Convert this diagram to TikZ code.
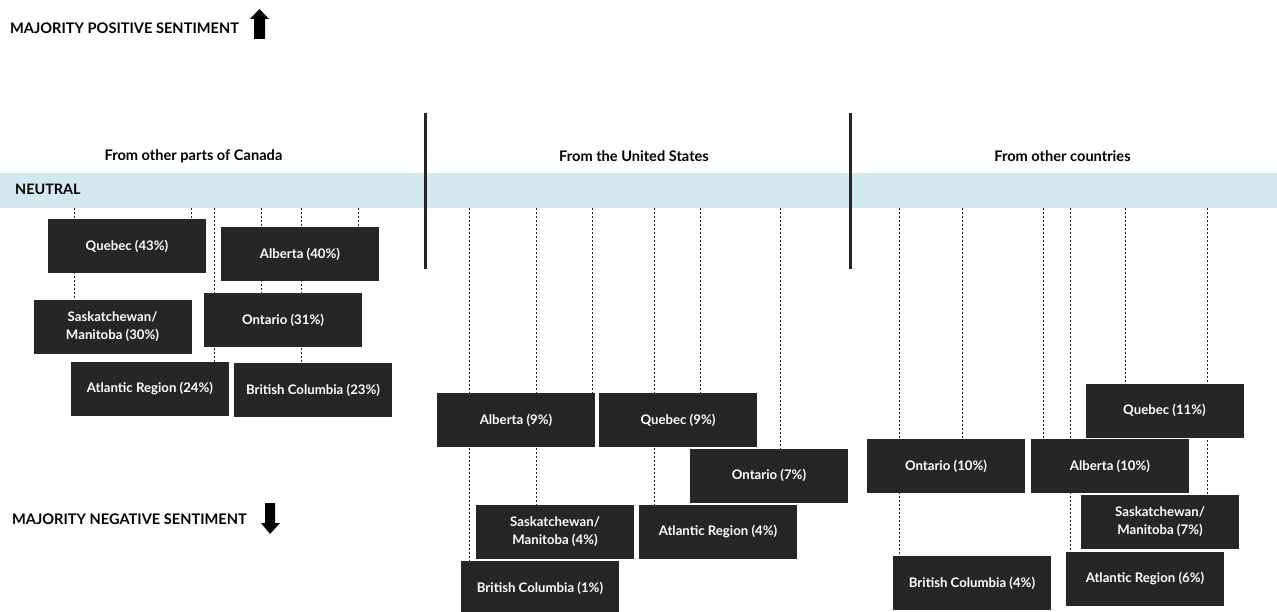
\documentclass[tikz,border=0pt]{standalone}
\usepackage{fontspec}
\setmainfont{Lato}
\usetikzlibrary{backgrounds}
\definecolor{neutralblue}{HTML}{D3E8EE}
\definecolor{boxgray}{HTML}{262626}
\tikzset{
  region/.style={fill=boxgray, text=white, font=\bfseries\fontsize{13.2}{18}\selectfont,
    minimum width=158pt, minimum height=54pt, inner sep=0pt, align=center},
  leader/.style={draw=black!85, line width=0.7pt, dash pattern=on 2pt off 2pt},
  divider/.style={draw=boxgray, line width=3pt},
  header/.style={font=\bfseries\fontsize{14.6}{17}\selectfont},
  sentiment/.style={font=\bfseries\fontsize{14.6}{17}\selectfont, anchor=west, inner sep=0pt}
}

\begin{document}
\begin{tikzpicture}[x=1pt,y=-1pt]
\useasboundingbox (0,0) rectangle (1277,612);
\node[sentiment] (pos) at (10,28) {MAJORITY POSITIVE SENTIMENT};
\fill (254,39) -- (254,19) -- (250,19) -- (259.5,9) -- (269,19) -- (265,19) -- (265,39) -- cycle;
\node[sentiment] (neg) at (12,519) {MAJORITY NEGATIVE SENTIMENT};
\fill (265,503) -- (275,503) -- (275,523) -- (280,523) -- (270,534) -- (261,523) -- (265,523) -- cycle;

\node[header] (canada) at (193.5,156) {From other parts of Canada};
\node[header] (usa) at (634,156) {From the United States};
\node[header] (other) at (1062.5,156) {From other countries};
\node[anchor=west, inner sep=0pt, font=\bfseries\fontsize{14.4}{17}\selectfont] (neutral) at (15,189) {NEUTRAL};

\draw[divider] (425,113) -- (425,269);
\draw[divider] (850,113) -- (850,269);

% other parts of Canada
\node[region] (qcA) at (127,246.5) {Quebec (43\%)};
\node[region] (abA) at (300,254) {Alberta (40\%)};
\node[region] (skA) at (112.5,327) {Saskatchewan/\\Manitoba (30\%)};
\node[region] (onA) at (283,320) {Ontario (31\%)};
\node[region] (atA) at (150,389) {Atlantic Region (24\%)};
\node[region] (bcA) at (313,390) {British Columbia (23\%)};

% United States
\node[region] (abB) at (516,420) {Alberta (9\%)};
\node[region] (qcB) at (678,420) {Quebec (9\%)};
\node[region] (onB) at (769,475.5) {Ontario (7\%)};
\node[region] (skB) at (555,532) {Saskatchewan/\\Manitoba (4\%)};
\node[region] (atB) at (718,532) {Atlantic Region (4\%)};
\node[region] (bcB) at (540,588) {British Columbia (1\%)};

% other countries
\node[region] (qcC) at (1164.5,410.5) {Quebec (11\%)};
\node[region] (onC) at (946,466) {Ontario (10\%)};
\node[region] (abC) at (1110,466) {Alberta (10\%)};
\node[region] (skC) at (1160,521.5) {Saskatchewan/\\Manitoba (7\%)};
\node[region] (bcC) at (972,583) {British Columbia (4\%)};
\node[region] (atC) at (1145,579) {Atlantic Region (6\%)};

\begin{pgfonlayer}{background}
\fill[neutralblue] (0,173) rectangle (1277,208);
\foreach \x/\n in {74/skA, 191/qcA, 214/atA, 261/onA, 301/bcA, 358/abA,
    469/bcB, 536/skB, 592/abB, 654/atB, 700/qcB, 780/onB,
    899/bcC, 962/onC, 1043/abC, 1070/atC, 1125/qcC, 1207/skC} {
  \coordinate (l\n) at (\x,208);
  \draw[leader] (l\n) -- (l\n |- \n.north);
}
\end{pgfonlayer}
\end{tikzpicture}
\end{document}
